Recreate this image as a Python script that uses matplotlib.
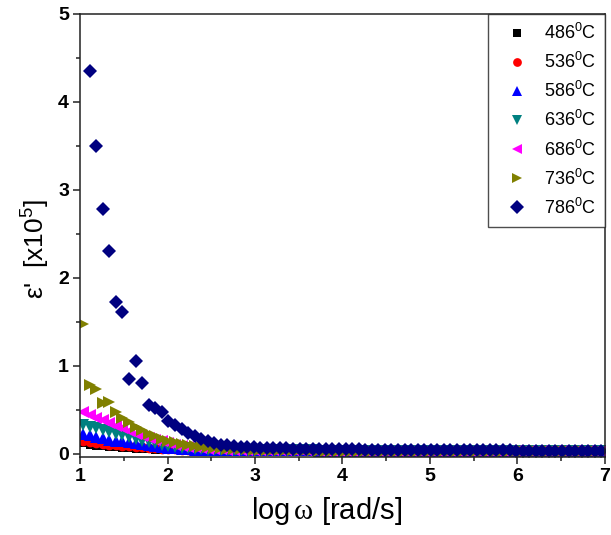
import numpy as np
import matplotlib
matplotlib.use("Agg")
import matplotlib.pyplot as plt
from matplotlib.ticker import MultipleLocator

plt.rcParams['font.family'] = ['Liberation Sans', 'DejaVu Sans']
plt.rcParams['mathtext.fontset'] = 'custom'
plt.rcParams['mathtext.rm'] = 'Liberation Sans'
plt.rcParams['mathtext.it'] = 'Liberation Sans:italic'
plt.rcParams['mathtext.sf'] = 'Liberation Serif'

# log of angular frequency sweep
log_w = [
    1.035, 1.110, 1.185, 1.260, 1.335, 1.410, 1.485, 1.560, 1.635, 1.710,
    1.785, 1.860, 1.935, 2.010, 2.085, 2.160, 2.235, 2.310, 2.385, 2.460,
    2.535, 2.610, 2.685, 2.760, 2.835, 2.910, 2.985, 3.060, 3.135, 3.210,
    3.285, 3.360, 3.435, 3.510, 3.585, 3.660, 3.735, 3.810, 3.885, 3.960,
    4.035, 4.110, 4.185, 4.260, 4.335, 4.410, 4.485, 4.560, 4.635, 4.710,
    4.785, 4.860, 4.935, 5.010, 5.085, 5.160, 5.235, 5.310, 5.385, 5.460,
    5.535, 5.610, 5.685, 5.760, 5.835, 5.910, 5.985, 6.060, 6.135, 6.210,
    6.285, 6.360, 6.435, 6.510, 6.585, 6.660, 6.735, 6.810, 6.885, 6.960,
]

# high-frequency plateau shared by the lower-temperature curves (x1e5)
plateau = [
    0.040, 0.040, 0.039, 0.039, 0.038, 0.038, 0.037, 0.037, 0.036, 0.036,
    0.035, 0.035, 0.035, 0.034, 0.034, 0.034, 0.033, 0.033, 0.033, 0.032,
    0.032, 0.032, 0.032, 0.031, 0.031, 0.031, 0.031, 0.030, 0.030, 0.030,
    0.030, 0.030, 0.029, 0.029, 0.029, 0.029, 0.029, 0.028, 0.028, 0.028,
    0.028, 0.028, 0.028, 0.027, 0.027, 0.027, 0.027, 0.027, 0.027, 0.027,
]

eps_486 = [
    0.12, 0.10, 0.09, 0.085, 0.08, 0.075, 0.07, 0.065, 0.06, 0.055,
    0.05, 0.047, 0.045, 0.043, 0.042, 0.041, 0.040, 0.040, 0.040, 0.040,
    0.040, 0.040, 0.040, 0.040, 0.040, 0.040, 0.040, 0.040, 0.040, 0.040,
] + plateau
eps_536 = [
    0.14, 0.13, 0.12, 0.11, 0.10, 0.095, 0.09, 0.085, 0.08, 0.075,
    0.07, 0.065, 0.06, 0.055, 0.051, 0.047, 0.045, 0.043, 0.042, 0.041,
    0.041, 0.040, 0.040, 0.040, 0.040, 0.040, 0.040, 0.040, 0.040, 0.040,
] + plateau
eps_586 = [
    0.22, 0.21, 0.19, 0.18, 0.16, 0.15, 0.14, 0.13, 0.12, 0.11,
    0.10, 0.09, 0.08, 0.07, 0.062, 0.056, 0.051, 0.047, 0.045, 0.043,
    0.042, 0.041, 0.041, 0.040, 0.040, 0.040, 0.040, 0.040, 0.040, 0.040,
] + plateau
eps_636 = [
    0.33, 0.31, 0.29, 0.27, 0.25, 0.23, 0.21, 0.19, 0.17, 0.15,
    0.13, 0.12, 0.10, 0.09, 0.08, 0.07, 0.062, 0.056, 0.051, 0.048,
    0.046, 0.044, 0.043, 0.042, 0.041, 0.041, 0.040, 0.040, 0.040, 0.040,
] + plateau
eps_686 = [
    0.47, 0.44, 0.41, 0.38, 0.35, 0.32, 0.29, 0.26, 0.23, 0.20,
    0.18, 0.16, 0.14, 0.12, 0.105, 0.092, 0.082, 0.073, 0.066, 0.060,
    0.055, 0.051, 0.048, 0.046, 0.044, 0.043, 0.042, 0.041, 0.041, 0.040,
] + plateau
eps_736 = [
    1.48, 0.78, 0.74, 0.58, 0.59, 0.47, 0.41, 0.36, 0.31, 0.27,
    0.23, 0.20, 0.17, 0.15, 0.13, 0.11, 0.10, 0.09, 0.08, 0.072,
    0.066, 0.061, 0.057, 0.054, 0.051, 0.049, 0.047, 0.045, 0.043, 0.041,
] + plateau
eps_786 = [
    np.nan, 4.35, 3.50, 2.78, 2.31, 1.73, 1.61, 0.85, 1.05, 0.80,
    0.55, 0.52, 0.47, 0.37, 0.33, 0.28, 0.24, 0.20, 0.17, 0.14,
    0.12, 0.105, 0.095, 0.088, 0.082, 0.078, 0.074, 0.071, 0.068, 0.066,
    0.064, 0.062, 0.060, 0.058, 0.057, 0.056, 0.055, 0.054, 0.053, 0.052,
    0.051, 0.050, 0.049, 0.048, 0.048, 0.047, 0.046, 0.046, 0.045, 0.045,
    0.044, 0.044, 0.043, 0.043, 0.042, 0.042, 0.041, 0.041, 0.040, 0.040,
    0.040, 0.039, 0.039, 0.038, 0.038, 0.038, 0.037, 0.037, 0.037, 0.036,
    0.036, 0.036, 0.035, 0.035, 0.035, 0.035, 0.034, 0.034, 0.034, 0.034,
]

labels = ['486$^0$C', '536$^0$C', '586$^0$C', '636$^0$C',
          '686$^0$C', '736$^0$C', '786$^0$C']
series = [eps_486, eps_536, eps_586, eps_636, eps_686, eps_736, eps_786]
colors = ['#000000', '#ff0000', '#0000ff', '#008080',
          '#ff00ff', '#808000', '#000080']
markers = ['s', 'o', '^', 'v', '<', '>', 'D']
sizes = [6, 7, 8, 8, 8, 8, 7.5]

fig = plt.figure(figsize=(6.11, 5.35), dpi=100)
ax = fig.add_axes([0.131, 0.146, 0.859, 0.828])

for y, lab, c, m, s in zip(series, labels, colors, markers, sizes):
    ax.plot(log_w, y, linestyle='none', marker=m, markersize=s,
            color=c, markeredgewidth=0, label=lab, clip_on=True)

ax.set_xlim(1, 7)
ax.set_ylim(-0.035, 5)
ax.xaxis.set_major_locator(MultipleLocator(1))
ax.xaxis.set_minor_locator(MultipleLocator(0.5))
ax.yaxis.set_major_locator(MultipleLocator(1))
ax.yaxis.set_minor_locator(MultipleLocator(0.5))
ax.tick_params(which='both', direction='out', top=False, right=False,
               width=1.1, color='#222222')
ax.tick_params(which='major', length=5, labelsize=14, pad=3)
ax.tick_params(which='minor', length=3)
for lbl in ax.get_xticklabels() + ax.get_yticklabels():
    lbl.set_fontweight('bold')
for sp in ax.spines.values():
    sp.set_linewidth(1.1)
    sp.set_color('#222222')

ax.set_xlabel(r'log$\,\mathsf{\omega}$ [rad/s]', fontsize=21, labelpad=6)
ax.xaxis.set_label_coords(0.47, -0.085)
ax.set_ylabel("ε'  [x10$^5$]", fontsize=19, labelpad=10)
ax.yaxis.set_label_coords(-0.053, 0.47)

leg = ax.legend(loc='upper right', bbox_to_anchor=(1.0, 1.0),
                borderaxespad=0, frameon=True, fancybox=False,
                fontsize=13, labelspacing=0.5, handletextpad=0.4,
                handlelength=2.2, borderpad=0.5, markerscale=0.9)
leg.get_frame().set_edgecolor('#222222')
leg.get_frame().set_linewidth(1.0)

fig.savefig('out.png', dpi=100)
